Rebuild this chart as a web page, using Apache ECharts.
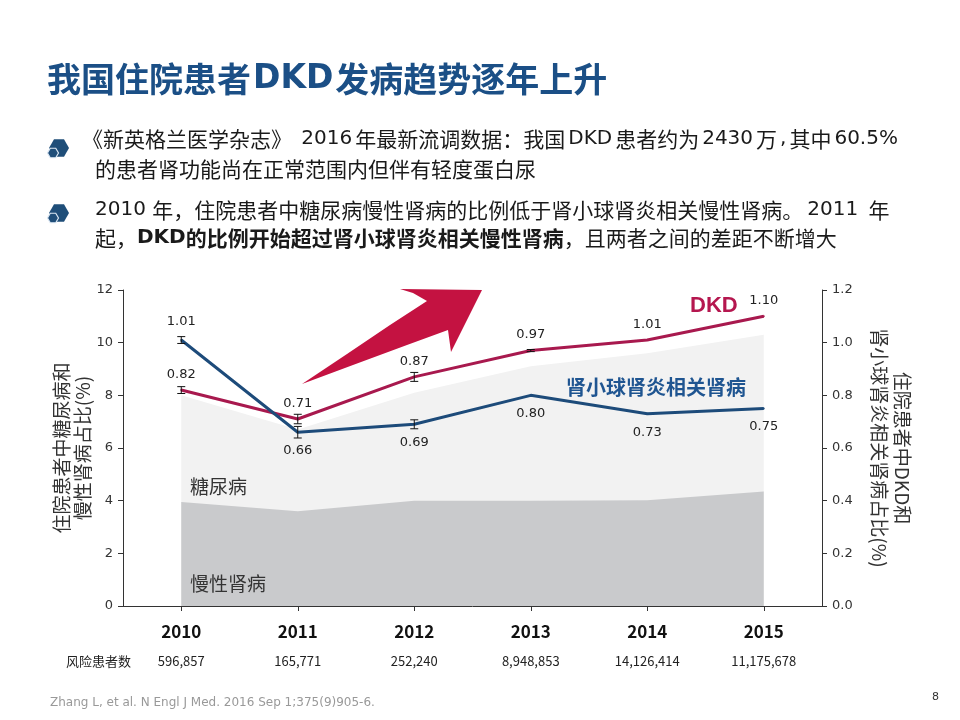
<!DOCTYPE html>
<html>
<head>
<meta charset="utf-8">
<title>我国住院患者DKD发病趋势逐年上升</title>
<script src="https://cdn.jsdelivr.net/npm/echarts@6/dist/echarts.min.js"></script>
<style>
  html, body { margin: 0; padding: 0; background: #fff; }
  #chart { width: 960px; height: 720px; }
</style>
</head>
<body>
<div id="chart"></div>
<script>
// data
const years = ['2010', '2011', '2012', '2013', '2014', '2015']
const patientsAtRisk = ['596,857', '165,771', '252,240', '8,948,853', '14,126,414', '11,175,678']
const diabetesPct = [8.0, 6.7, 8.1, 9.1, 9.6, 10.3]
const ckdPct = [3.95, 3.6, 4.0, 4.0, 4.02, 4.35]
const dkdPct = [0.82, 0.71, 0.87, 0.97, 1.01, 1.10]
const gnPct = [1.01, 0.66, 0.69, 0.80, 0.73, 0.75]
const dkdErr = [0.013, 0.018, 0.017, 0.004, 0, 0]
const gnErr = [0.013, 0.022, 0.017, 0, 0, 0]

const CJK = '"Noto Sans CJK SC", sans-serif'
const NUM = '"DejaVu Sans", Verdana, sans-serif'
const DKD_COLOR = '#a8194e'
const GN_COLOR = '#1d4b7a'
const TEXT = '#1a1a1a'

const font = (size, weight) => `${weight || 'normal'} ${size}px ${CJK}`

// rich styles for the bullet text: latin/digits in a Verdana-like face,
// the padded variants stand in for the justified lines of the slide
const bodyRich = {
  l: { fontFamily: NUM, fontSize: 20, fill: TEXT },
  lj: { fontFamily: NUM, fontSize: 20, fill: TEXT, padding: [0, 3] },
  l3: { fontFamily: NUM, fontSize: 20, fill: TEXT, padding: [0, 4] },
  b: { fontFamily: CJK, fontSize: 21, fontWeight: 'bold', fill: TEXT },
  bl: { fontFamily: NUM, fontSize: 20, fontWeight: 'bold', fill: TEXT }
}

function bodyLine(text, x, y) {
  return {
    type: 'text',
    style: { text, x, y, font: font(21), fill: TEXT, verticalAlign: 'middle', rich: bodyRich }
  }
}

function hexPoints(cx, cy, r) {
  const pts = []
  for (let k = 0; k < 6; k++) {
    const a = Math.PI / 3 * k
    pts.push([cx + r * Math.cos(a), cy + r * Math.sin(a)])
  }
  return pts
}

function bullet(cx, cy) {
  return [
    { type: 'polygon', shape: { points: hexPoints(cx + 2, cy, 10) }, style: { fill: '#1f4e79' } },
    { type: 'polygon', shape: { points: hexPoints(cx - 4, cy + 5, 5.5) }, style: { fill: '#1f4e79', stroke: '#dbe7f3', lineWidth: 1.2 } }
  ]
}

function errorData(vals, errs) {
  return vals.map((v, i) => [i, v - errs[i], v + errs[i]]).filter((d, i) => errs[i] > 0)
}

function renderErrorBar(params, api) {
  const lo = api.coord([api.value(0), api.value(1)])
  const hi = api.coord([api.value(0), api.value(2)])
  const w = 4
  const style = { stroke: '#111', lineWidth: 1 }
  return {
    type: 'group',
    children: [
      { type: 'line', shape: { x1: hi[0], y1: hi[1], x2: lo[0], y2: lo[1] }, style },
      { type: 'line', shape: { x1: hi[0] - w, y1: hi[1], x2: hi[0] + w, y2: hi[1] }, style },
      { type: 'line', shape: { x1: lo[0] - w, y1: lo[1], x2: lo[0] + w, y2: lo[1] }, style }
    ]
  }
}

const pointLabel = {
  show: true,
  fontFamily: NUM,
  fontSize: 13,
  color: '#222',
  distance: 8,
  formatter: p => Number(p.value).toFixed(2)
}

const axisLine = { show: true, lineStyle: { color: '#333', width: 1 } }

const chart = echarts.init(document.getElementById('chart'))

chart.setOption({
  backgroundColor: '#fff',
  animation: false,
  title: {
    text: '我国住院患者{l|DKD}发病趋势逐年上升',
    left: 47,
    top: 62,
    padding: 0,
    textStyle: {
      fontFamily: CJK, fontSize: 34, fontWeight: 'bold', color: '#1b4f86',
      rich: { l: { fontFamily: NUM, fontSize: 33, fontWeight: 'bold', color: '#1b4f86', padding: [0, 2] } }
    }
  },
  grid: { left: 123, right: 138, top: 290, bottom: 114, containLabel: false, outerBoundsMode: 'none' },
  xAxis: {
    type: 'category',
    data: years,
    boundaryGap: true,
    axisLine,
    axisTick: { show: true, alignWithLabel: true, length: 5, lineStyle: { color: '#333' } },
    axisLabel: {
      interval: 0,
      margin: 12,
      formatter: (v, i) => `{y|${v}}\n{n|${patientsAtRisk[i]}}`,
      rich: {
        y: { fontFamily: CJK, fontSize: 17, fontWeight: 'bold', color: '#111', lineHeight: 28 },
        n: { fontFamily: CJK, fontSize: 13, color: '#222', lineHeight: 30 }
      }
    }
  },
  yAxis: [
    {
      type: 'value',
      min: 0,
      max: 12,
      interval: 2,
      position: 'left',
      axisLine,
      axisTick: { show: true, length: 5, lineStyle: { color: '#333' } },
      splitLine: { show: false },
      axisLabel: { fontFamily: NUM, fontSize: 13, color: '#333', margin: 10 },
      name: '住院患者中糖尿病和\n慢性肾病占比(%)',
      nameLocation: 'middle',
      nameGap: 30,
      nameMoveOverlap: false,
      nameTextStyle: { fontFamily: CJK, fontSize: 19, lineHeight: 21, color: '#333' }
    },
    {
      type: 'value',
      min: 0,
      max: 1.2,
      interval: 0.2,
      position: 'right',
      axisLine,
      axisTick: { show: true, length: 5, lineStyle: { color: '#333' } },
      splitLine: { show: false },
      axisLabel: { fontFamily: NUM, fontSize: 13, color: '#333', margin: 10, formatter: v => v.toFixed(1) },
      name: '住院患者中DKD和\n肾小球肾炎相关肾病占比(%)',
      nameLocation: 'middle',
      nameRotate: -90,
      nameGap: 46,
      nameMoveOverlap: false,
      nameTextStyle: { fontFamily: CJK, fontSize: 19, lineHeight: 23, color: '#333' }
    }
  ],
  series: [
    {
      name: '糖尿病',
      type: 'line',
      yAxisIndex: 0,
      data: diabetesPct,
      symbol: 'none',
      lineStyle: { width: 0 },
      areaStyle: { color: '#f2f2f2', opacity: 1 },
      z: 1
    },
    {
      name: '慢性肾病',
      type: 'line',
      yAxisIndex: 0,
      data: ckdPct,
      symbol: 'none',
      lineStyle: { width: 0 },
      areaStyle: { color: '#c9cacc', opacity: 1 },
      z: 2
    },
    {
      name: 'DKD',
      type: 'line',
      yAxisIndex: 1,
      data: dkdPct,
      symbol: 'circle',
      symbolSize: 2,
      itemStyle: { color: DKD_COLOR },
      lineStyle: { color: DKD_COLOR, width: 3 },
      label: Object.assign({}, pointLabel, { position: 'top' }),
      z: 4
    },
    {
      name: '肾小球肾炎相关肾病',
      type: 'line',
      yAxisIndex: 1,
      data: gnPct.map((v, i) => i === 0 ? { value: v, label: { position: 'top' } } : v),
      symbol: 'circle',
      symbolSize: 2,
      itemStyle: { color: GN_COLOR },
      lineStyle: { color: GN_COLOR, width: 3 },
      label: Object.assign({}, pointLabel, { position: 'bottom', distance: 11 }),
      z: 4
    },
    {
      name: 'DKD误差',
      type: 'custom',
      yAxisIndex: 1,
      data: errorData(dkdPct, dkdErr),
      renderItem: renderErrorBar,
      z: 6
    },
    {
      name: '肾小球肾炎误差',
      type: 'custom',
      yAxisIndex: 1,
      data: errorData(gnPct, gnErr),
      renderItem: renderErrorBar,
      z: 6
    }
  ],
  graphic: [
    ...bullet(57, 148),
    ...bullet(57, 213),
    bodyLine('《新英格兰医学杂志》{lj| 2016}年最新流调数据：我国{lj|DKD}患者约为{lj|2430}万{lj|,}其中{lj|60.5%}', 82, 139),
    bodyLine('的患者肾功能尚在正常范围内但伴有轻度蛋白尿', 95, 169),
    bodyLine('{l|2010 }年，住院患者中糖尿病慢性肾病的比例低于肾小球肾炎相关慢性肾病。{l3|2011 }年', 95, 210),
    bodyLine('起，{bl|DKD}{b|的比例开始超过肾小球肾炎相关慢性肾病}，且两者之间的差距不断增大', 95, 238),
    // big trend arrow
    {
      type: 'polygon',
      z: 3,
      shape: {
        points: [
          [302, 384], [347, 354], [390, 325], [427, 301],
          [413, 293], [400, 289], [482, 290], [451, 352],
          [448, 330], [407, 345], [353, 365]
        ]
      },
      style: { fill: '#c41241' }
    },
    { type: 'text', z: 10, style: { text: 'DKD', x: 690, y: 306, font: 'bold 22px "Liberation Sans", Arial, sans-serif', fill: '#b5174f', verticalAlign: 'middle' } },
    { type: 'text', z: 10, style: { text: '肾小球肾炎相关肾病', x: 566, y: 387, font: font(20, 'bold'), fill: '#1f5591', verticalAlign: 'middle' } },
    { type: 'text', z: 10, style: { text: '糖尿病', x: 190, y: 487, font: font(19), fill: '#333', verticalAlign: 'middle' } },
    { type: 'text', z: 10, style: { text: '慢性肾病', x: 190, y: 584, font: font(19), fill: '#333', verticalAlign: 'middle' } },
    { type: 'text', style: { text: '风险患者数', x: 66, y: 661, font: font(13), fill: '#222', verticalAlign: 'middle' } },
    { type: 'text', style: { text: 'Zhang L, et al. N Engl J Med. 2016 Sep 1;375(9)905-6.', x: 50, y: 703, font: `12px ${NUM}`, fill: '#999', verticalAlign: 'middle' } },
    { type: 'text', style: { text: '8', x: 932, y: 697, font: `11px ${NUM}`, fill: '#333', verticalAlign: 'middle' } }
  ]
})
</script>
</body>
</html>
